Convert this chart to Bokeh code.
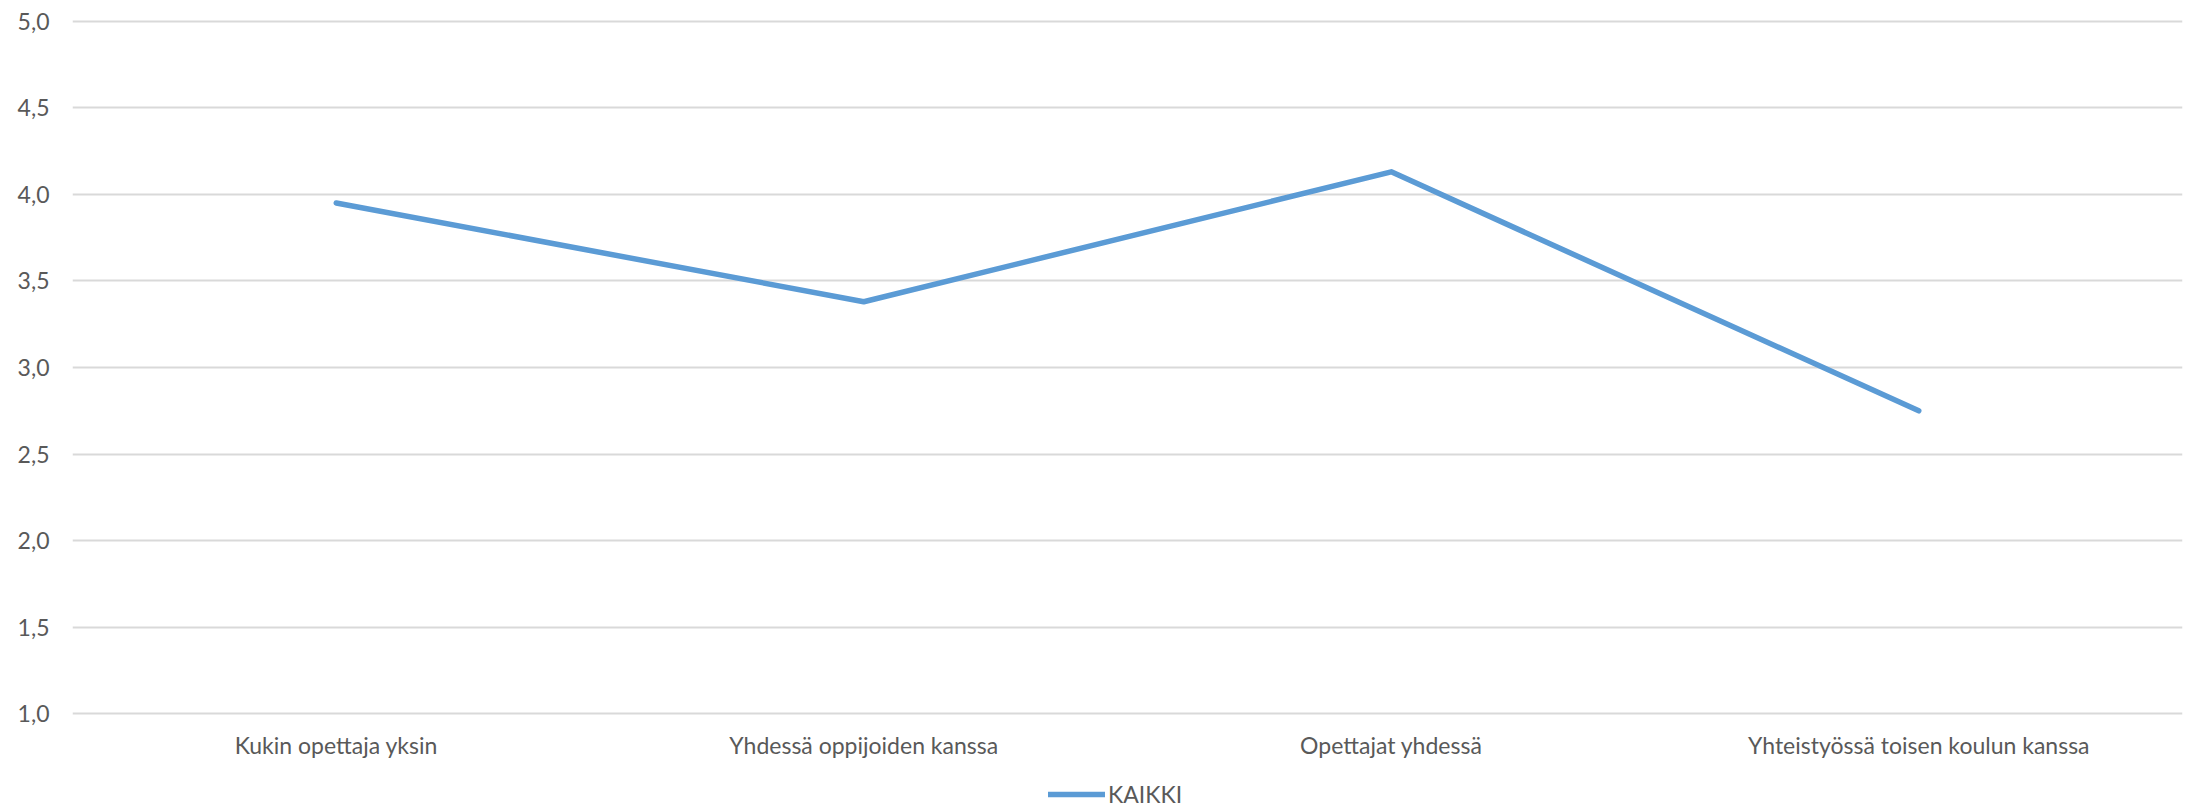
from bokeh.plotting import figure
from bokeh.layouts import column
from bokeh.models import FactorRange, Range1d, FixedTicker, Legend, LegendItem, ColumnDataSource
from bokeh.embed import file_html
from bokeh.resources import INLINE

categories = ["Kukin opettaja yksin", "Yhdessä oppijoiden kanssa", "Opettajat yhdessä", "Yhteistyössä toisen koulun kanssa"]
kaikki = [3.95, 3.38, 4.13, 2.75]
y_ticks = [1.0, 1.5, 2.0, 2.5, 3.0, 3.5, 4.0, 4.5, 5.0]
y_tick_labels = ["1,0", "1,5", "2,0", "2,5", "3,0", "3,5", "4,0", "4,5", "5,0"]
series_name = "KAIKKI"

FONT = "Lato"
TXT = "#595959"
BLUE = "#5B9BD5"

p = figure(width=2188, height=768, output_backend="svg", toolbar_location=None,
           x_range=FactorRange(*categories, range_padding=0),
           y_range=Range1d(0.99, 5.01),
           min_border_left=72, min_border_right=6, min_border_top=19, min_border_bottom=53)
p.outline_line_color = None

src = ColumnDataSource(dict(x=categories, y=kaikki))
r = p.line("x", "y", source=src, line_color=BLUE, line_width=5.5, line_cap="round", line_join="round")

p.xgrid.grid_line_color = None
p.ygrid.grid_line_color = "#D9D9D9"
p.ygrid.grid_line_width = 2

p.yaxis.ticker = FixedTicker(ticks=y_ticks)
p.yaxis.major_label_overrides = {t: l for t, l in zip(y_ticks, y_tick_labels)}
for ax in (p.xaxis[0], p.yaxis[0]):
    ax.axis_line_color = None
    ax.major_tick_line_color = None
    ax.minor_tick_line_color = None
    ax.major_tick_out = 0
    ax.major_tick_in = 0
    ax.major_label_text_font = FONT
    ax.major_label_text_font_size = "23px"
    ax.major_label_text_color = TXT
p.yaxis.major_label_standoff = 23
p.xaxis.major_label_standoff = 15

# legend strip below the chart
p2 = figure(width=2188, height=40, output_backend="svg", toolbar_location=None,
            x_range=FactorRange(*categories, range_padding=0), y_range=Range1d(100, 101),
            x_axis_type=None, y_axis_type=None,
            min_border_left=0, min_border_right=0, min_border_top=0, min_border_bottom=0)
p2.outline_line_color = None
p2.xgrid.grid_line_color = None
p2.ygrid.grid_line_color = None
r2 = p2.line("x", "y", source=src, line_color=BLUE, line_width=5.5, line_cap="round")

legend = Legend(items=[LegendItem(label=series_name, renderers=[r2])],
                orientation="horizontal", location=(976, 0),
                label_text_font=FONT, label_text_font_size="23px", label_text_color=TXT,
                glyph_width=57, glyph_height=22, label_height=22, label_standoff=3,
                border_line_color=None, background_fill_alpha=0,
                margin=0, padding=0, spacing=0)
p2.add_layout(legend)

layout = column(p, p2, spacing=0)
open("out.html", "w").write(file_html(layout, INLINE))
